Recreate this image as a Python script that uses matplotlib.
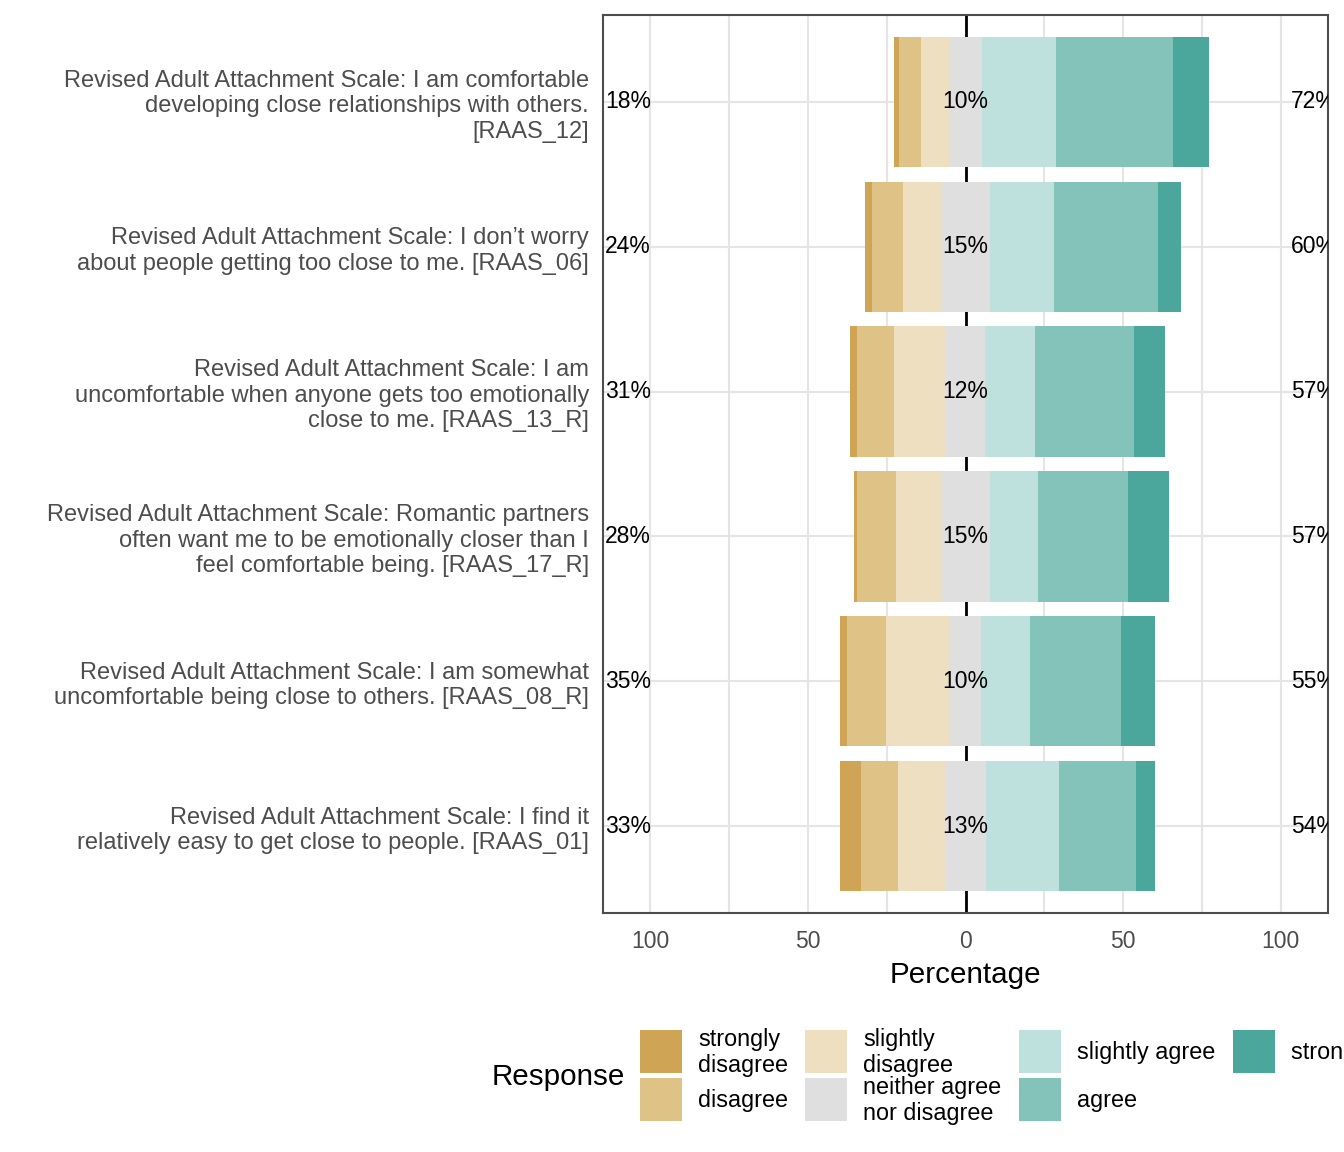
import matplotlib.pyplot as plt
from matplotlib.patches import Rectangle

plt.rcParams['font.family'] = ['Liberation Sans', 'DejaVu Sans']

items = [
    "Revised Adult Attachment Scale: I am comfortable\ndeveloping close relationships with others.\n[RAAS_12]",
    "Revised Adult Attachment Scale: I don\u2019t worry\nabout people getting too close to me. [RAAS_06]",
    "Revised Adult Attachment Scale: I am\nuncomfortable when anyone gets too emotionally\nclose to me. [RAAS_13_R]",
    "Revised Adult Attachment Scale: Romantic partners\noften want me to be emotionally closer than I\nfeel comfortable being. [RAAS_17_R]",
    "Revised Adult Attachment Scale: I am somewhat\nuncomfortable being close to others. [RAAS_08_R]",
    "Revised Adult Attachment Scale: I find it\nrelatively easy to get close to people. [RAAS_01]",
]
levels = ["strongly disagree", "disagree", "slightly disagree",
          "neither agree nor disagree", "slightly agree", "agree", "strongly agree"]
legend_labels = ["strongly\ndisagree", "disagree", "slightly\ndisagree",
                 "neither agree\nnor disagree", "slightly agree", "agree", "strongly agree"]

# percentages per item, in level order
strongly_disagree = [1.6, 2.2, 2.2, 0.9, 2.2, 6.7]
disagree = [7.0, 9.8, 11.9, 12.4, 12.4, 11.7]
slightly_disagree = [9.0, 12.0, 16.6, 14.4, 20.3, 15.0]
neutral = [10.3, 15.5, 12.1, 15.4, 9.9, 13.0]
slightly_agree = [23.6, 20.3, 15.9, 15.3, 15.5, 23.1]
agree = [37.1, 32.9, 31.5, 28.5, 28.9, 24.5]
strongly_agree = [11.4, 7.3, 9.8, 13.1, 10.8, 6.0]

low_pct = ["18%", "24%", "31%", "28%", "35%", "33%"]
mid_pct = ["10%", "15%", "12%", "15%", "10%", "13%"]
high_pct = ["72%", "60%", "57%", "57%", "55%", "54%"]

colors = ["#CFA555", "#DFC286", "#EEDFC0", "#DFDFDF", "#BEE1DE", "#84C3BA", "#4BA79C"]

W, H = 1344, 1152
fig = plt.figure(figsize=(W / 100, H / 100), dpi=100)
ax = fig.add_axes([603 / W, 1 - 913 / H, 725 / W, 898 / H])

n = len(items)
ypos = [n - i for i in range(n)]

series = [strongly_disagree, disagree, slightly_disagree, neutral,
          slightly_agree, agree, strongly_agree]

for i in range(n):
    left = -(strongly_disagree[i] + disagree[i] + slightly_disagree[i] + neutral[i] / 2)
    for k, s in enumerate(series):
        ax.barh(ypos[i], s[i], left=left, height=0.9, color=colors[k],
                linewidth=0, zorder=2)
        left += s[i]
    ax.text(-114.4, ypos[i], low_pct[i], ha='left', va='center', fontsize=16.5,
            zorder=4, clip_on=True)
    ax.text(0, ypos[i], mid_pct[i], ha='center', va='center', fontsize=16.5, zorder=4)
    ax.text(103.2, ypos[i], high_pct[i], ha='left', va='center', fontsize=16.5,
            zorder=4, clip_on=True)

ax.axvline(0, color='black', linewidth=2, zorder=1)

ax.set_xlim(-115, 115)
ax.set_ylim(0.4, n + 0.6)
ax.set_xticks([-100, -50, 0, 50, 100])
ax.set_xticklabels(["100", "50", "0", "50", "100"])
ax.set_xticks([-75, -25, 25, 75], minor=True)
ax.set_yticks(ypos)
ax.set_yticklabels(items, linespacing=1.2)
ax.tick_params(axis='both', length=0, labelsize=16.5, labelcolor='#4D4D4D')
ax.tick_params(axis='y', labelsize=17, pad=10)
ax.tick_params(axis='x', which='minor', length=0)
ax.tick_params(axis='x', pad=12)
ax.grid(True, which='both', color='#E5E5E5', linewidth=1.5, zorder=0)
ax.set_axisbelow(True)
for sp in ax.spines.values():
    sp.set_color('#4D4D4D')
    sp.set_linewidth(1.5)
ax.set_xlabel("Percentage", fontsize=21.3, labelpad=6)

# legend drawn by hand: 4 columns, filled column by column
key_x = [640, 805, 1019, 1233]
key_top = [1030, 1078]
key_w, key_h = 42, 43
for j, (lab, c) in enumerate(zip(legend_labels, colors)):
    col, row = divmod(j, 2)
    x0 = key_x[col]
    y0 = key_top[row]
    fig.add_artist(Rectangle((x0 / W, 1 - (y0 + key_h) / H), key_w / W, key_h / H,
                             transform=fig.transFigure, facecolor=c, edgecolor='none'))
    fig.text((x0 + key_w + 16) / W, 1 - (y0 + key_h / 2 + 1) / H, lab,
             fontsize=16.8, ha='left', va='center', linespacing=1.12)
fig.text(492 / W, 1 - 1077 / H, "Response", fontsize=21.3, ha='left', va='center')

fig.savefig("out.png", dpi=100)
